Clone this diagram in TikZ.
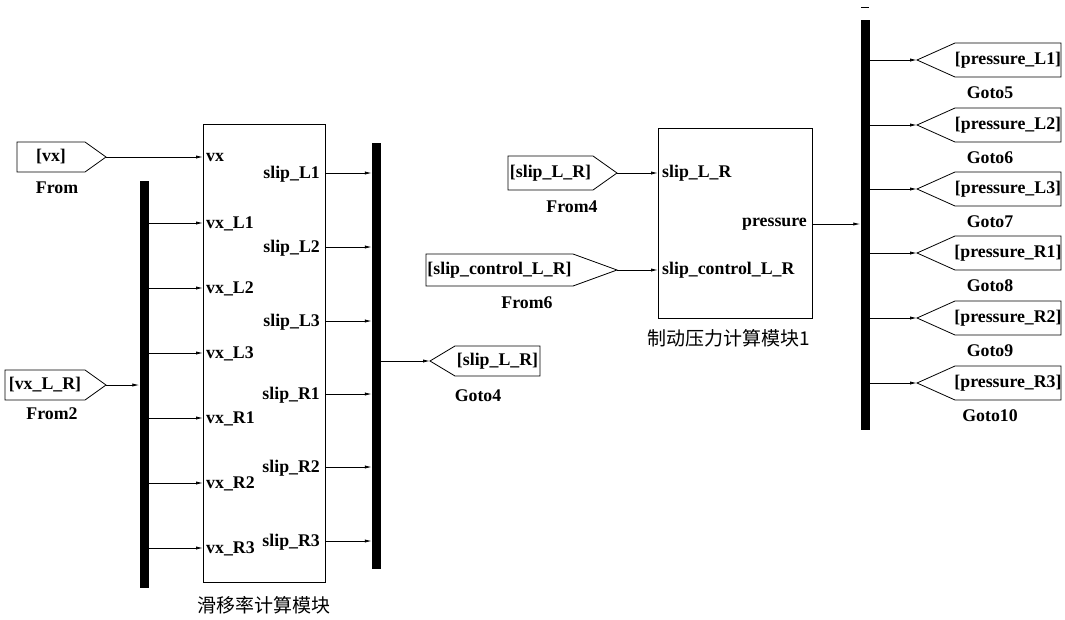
\documentclass[tikz,border=0pt]{standalone}
\usepackage{fontspec}
\setmainfont{Liberation Serif}
\newfontfamily\cjk{Noto Sans CJK SC}
\usetikzlibrary{arrows.meta}
\newcommand\FromBlk[7]{% name, xl, xs, xt, yc, hh, text
  \draw[blk] (#2,#5-#6) -- (#3,#5-#6) -- (#4,#5) -- (#3,#5+#6) -- (#2,#5+#6) -- cycle;
  \node[lbl] (#1) at ({(#2+#3)/2},#5) {#7};
  \coordinate (#1tip) at (#4,#5);}
\newcommand\GotoBlk[7]{% name, xt, xs, xr, yc, hh, text
  \draw[blk] (#2,#5) -- (#3,#5-#6) -- (#4,#5-#6) -- (#4,#5+#6) -- (#3,#5+#6) -- cycle;
  \node[lbl] (#1) at ({(#3+#4)/2},#5) {#7};
  \coordinate (#1tip) at (#2,#5);}
\begin{document}
\begin{tikzpicture}[x=1pt,y=-1pt,
  lbl/.style={font=\bfseries\fontsize{17.8}{19}\selectfont, inner sep=0pt},
  cjklbl/.style={font=\cjk\fontsize{19}{21}\selectfont, inner sep=0pt},
  sig/.style={line width=0.8pt, -{Latex[length=7pt,width=3.2pt]}},
  bus/.style={fill=black, draw=none, minimum width=9pt, inner sep=0pt},
  blk/.style={draw, line width=0.8pt},
]
\useasboundingbox (0,0) rectangle (1065,619);

% blocks
\node[blk, minimum width=122pt, minimum height=458pt, inner sep=0pt] (b1) at (264,353) {};
\node[cjklbl] (b1name) at (264,605) {滑移率计算模块};
\node[blk, minimum width=154pt, minimum height=190pt, inner sep=0pt] (b2) at (735,223) {};
\node[cjklbl] (b2name) at (729,338) {制动压力计算模块1};

% buses
\node[bus, minimum height=407pt] (bus1) at (144,384.5) {};
\node[bus, minimum height=426pt] (bus2) at (376.5,356) {};
\node[bus, minimum height=410pt] (bus3) at (865,225) {};
\draw[line width=0.6pt] (861,7) coordinate (dashA) -- (869,7) coordinate (dashB);

% From blocks
\FromBlk{fvx}{17}{85}{106}{157}{15}{[vx]}
\node[lbl] (fvxname) at (57,188) {From};
\FromBlk{fvxlr}{5}{85}{106}{385}{15}{[vx\_L\_R]}
\node[lbl] (fvxlrname) at (52,414) {From2};
\FromBlk{fslip}{508}{593}{617}{173}{17}{[slip\_L\_R]}
\node[lbl] (fslipname) at (572,207) {From4};
\FromBlk{fctrl}{426}{573}{617}{270}{16}{[slip\_control\_L\_R]}
\node[lbl] (fctrlname) at (527,303) {From6};

% Goto4
\GotoBlk{g4}{430}{455}{540}{361}{15}{[slip\_L\_R]}
\node[lbl] (g4name) at (478,396) {Goto4};

% block 1 inputs
\coordinate (vin0) at (203,157);
\node[lbl, anchor=west] (lvx) at (206,157) {vx};
\draw[sig] (fvxtip) -- (vin0);
\draw[sig] (fvxlrtip) -- (bus1.west |- fvxlrtip);
\foreach \y/\t [count=\i] in {223/L1,288/L2,353/L3,418/R1,483/R2,548/R3}{
  \coordinate (vin\i) at (203,\y);
  \node[lbl, anchor=west] (lvin\i) at (206,\y+1) {vx\_\t};
  \draw[sig] (bus1.east |- vin\i) -- (vin\i);
}
% block 1 outputs
\foreach \y/\t [count=\i] in {173/L1,247/L2,321/L3,394/R1,467/R2,541/R3}{
  \coordinate (sout\i) at (325,\y);
  \node[lbl, anchor=east] (lsout\i) at (320,\y+1) {slip\_\t};
  \draw[sig] (sout\i) -- (bus2.west |- sout\i);
}
\coordinate (bus2out) at (381,361);
\draw[sig] (bus2out) -- (g4tip);

% block 2
\coordinate (pin1) at (658,173);
\coordinate (pin2) at (658,270);
\coordinate (pout) at (812,224);
\node[lbl, anchor=west] (lpin1) at (662,173) {slip\_L\_R};
\node[lbl, anchor=west] (lpin2) at (662,270) {slip\_control\_L\_R};
\node[lbl, anchor=east] (lpout) at (807,224) {pressure};
\draw[sig] (fsliptip) -- (pin1);
\draw[sig] (fctrltip) -- (pin2);
\draw[sig] (pout) -- (bus3.west |- pout);

% Goto blocks on bus3
\foreach \y/\t/\n [count=\i] in {60/L1/5,125/L2/6,189/L3/7,253/R1/8,318/R2/9,383/R3/10}{
  \GotoBlk{gp\i}{917}{955}{1061}{\y}{17}{[pressure\_\t]}
  \node[lbl] (gpname\i) at (990,\y+33) {Goto\n};
  \draw[sig] (bus3.east |- gp\i tip) -- (gp\i tip);
}
\end{tikzpicture}
\end{document}
